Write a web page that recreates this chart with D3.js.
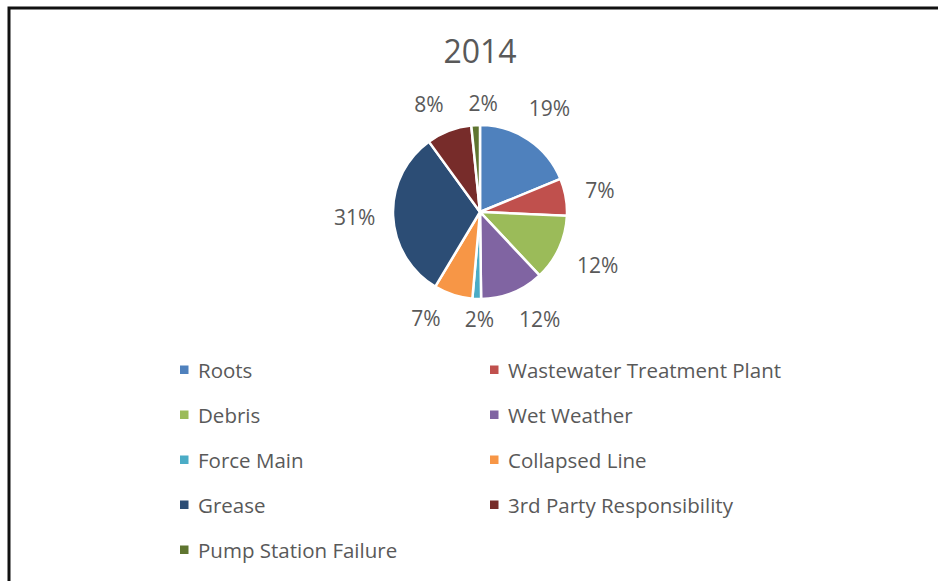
<!DOCTYPE html>
<html>
<head>
<meta charset="utf-8">
<script src="https://cdn.jsdelivr.net/npm/d3@7"></script>
<style>
  body { margin: 0; background: #fff; }
  svg { display: block; }
  text { font-family: "Open Sans", sans-serif; fill: #595959; }
</style>
</head>
<body>
<script>
// data (share of total, %)
var categories = ['Roots', 'Wastewater Treatment Plant', 'Debris', 'Wet Weather', 'Force Main',
  'Collapsed Line', 'Grease', '3rd Party Responsibility', 'Pump Station Failure'];
var values = [18.8, 6.9, 12.3, 11.8, 1.6, 7.2, 31.4, 8.4, 1.6];
var colors = ['#4F81BD', '#C0504D', '#9BBB59', '#8064A2', '#4BACC6',
  '#F79646', '#2C4D75', '#772C2A', '#5F7530'];
var title = '2014';

var width = 938, height = 581;
var cx = 480, cy = 212, radius = 87;

var svg = d3.select('body').append('svg')
  .attr('width', width)
  .attr('height', height);

// frame (right / bottom edges run off the picture)
svg.append('rect')
  .attr('x', 9).attr('y', 8)
  .attr('width', width + 20).attr('height', height + 20)
  .attr('fill', 'none')
  .attr('stroke', '#111')
  .attr('stroke-width', 3);

svg.append('text')
  .attr('x', 480).attr('y', 63)
  .attr('text-anchor', 'middle')
  .style('font-size', '32px')
  .text(title);

var data = categories.map(function(c, i) {
  return {name: c, value: values[i], color: colors[i]};
});

var total = d3.sum(values);
var pie = d3.pie().sort(null).value(function(d) { return d.value; });
var arc = d3.arc().innerRadius(0).outerRadius(radius);
var arcs = pie(data);

var g = svg.append('g').attr('transform', 'translate(' + cx + ',' + cy + ')');

g.selectAll('path.slice')
  .data(arcs)
  .enter()
  .append('path')
  .attr('class', 'slice')
  .attr('d', arc)
  .attr('fill', function(d) { return d.data.color; })
  .attr('stroke', '#fff')
  .attr('stroke-width', 2.5);

// data labels, pushed outside the rim by their own box size
var labels = g.selectAll('text.lbl')
  .data(arcs)
  .enter()
  .append('text')
  .attr('class', 'lbl')
  .attr('text-anchor', 'middle')
  .attr('dy', '0.35em')
  .style('font-size', '21px')
  .text(function(d) { return Math.round(d.data.value / total * 100) + '%'; });

var boxes = [];
labels.each(function(d) {
  boxes.push({a: (d.startAngle + d.endAngle) / 2, hw: this.getComputedTextLength() / 2, hh: 10});
});

function place(b) {
  var dist = radius + Math.abs(Math.sin(b.a)) * (b.hw + 17) + Math.abs(Math.cos(b.a)) * (b.hh + 10);
  b.x = Math.sin(b.a) * dist;
  b.y = -Math.cos(b.a) * dist;
}

// spread crowded labels apart along the rim
var padX = 12, padY = 6;
for (var it = 0; it < 400; it++) {
  boxes.forEach(place);
  var moved = false;
  for (var i = 0; i < boxes.length; i++) {
    var j = (i + 1) % boxes.length;
    var p = boxes[i], q = boxes[j];
    var ox = (p.hw + q.hw + 2 * padX) - Math.abs(p.x - q.x);
    var oy = (p.hh + q.hh + 2 * padY) - Math.abs(p.y - q.y);
    if (ox > 0 && oy > 0) {
      p.a -= 0.004;
      q.a += 0.004;
      moved = true;
    }
  }
  if (!moved) break;
}
boxes.forEach(place);

labels
  .attr('x', function(d, i) { return boxes[i].x; })
  .attr('y', function(d, i) { return boxes[i].y; });

// legend, two columns
var legend = svg.append('g');
var rowY = d3.scaleLinear().domain([0, 1]).range([370, 415]);
var colX = [180, 490];

var items = legend.selectAll('g.item')
  .data(data)
  .enter()
  .append('g')
  .attr('class', 'item')
  .attr('transform', function(d, i) {
    return 'translate(' + colX[i % 2] + ',' + rowY(Math.floor(i / 2)) + ')';
  });

items.append('rect')
  .attr('x', 0).attr('y', -4.5)
  .attr('width', 8.5).attr('height', 8.5)
  .attr('fill', function(d) { return d.color; });

items.append('text')
  .attr('x', 18)
  .attr('y', 7.5)
  .style('font-size', '20.5px')
  .text(function(d) { return d.name; });
</script>
</body>
</html>
